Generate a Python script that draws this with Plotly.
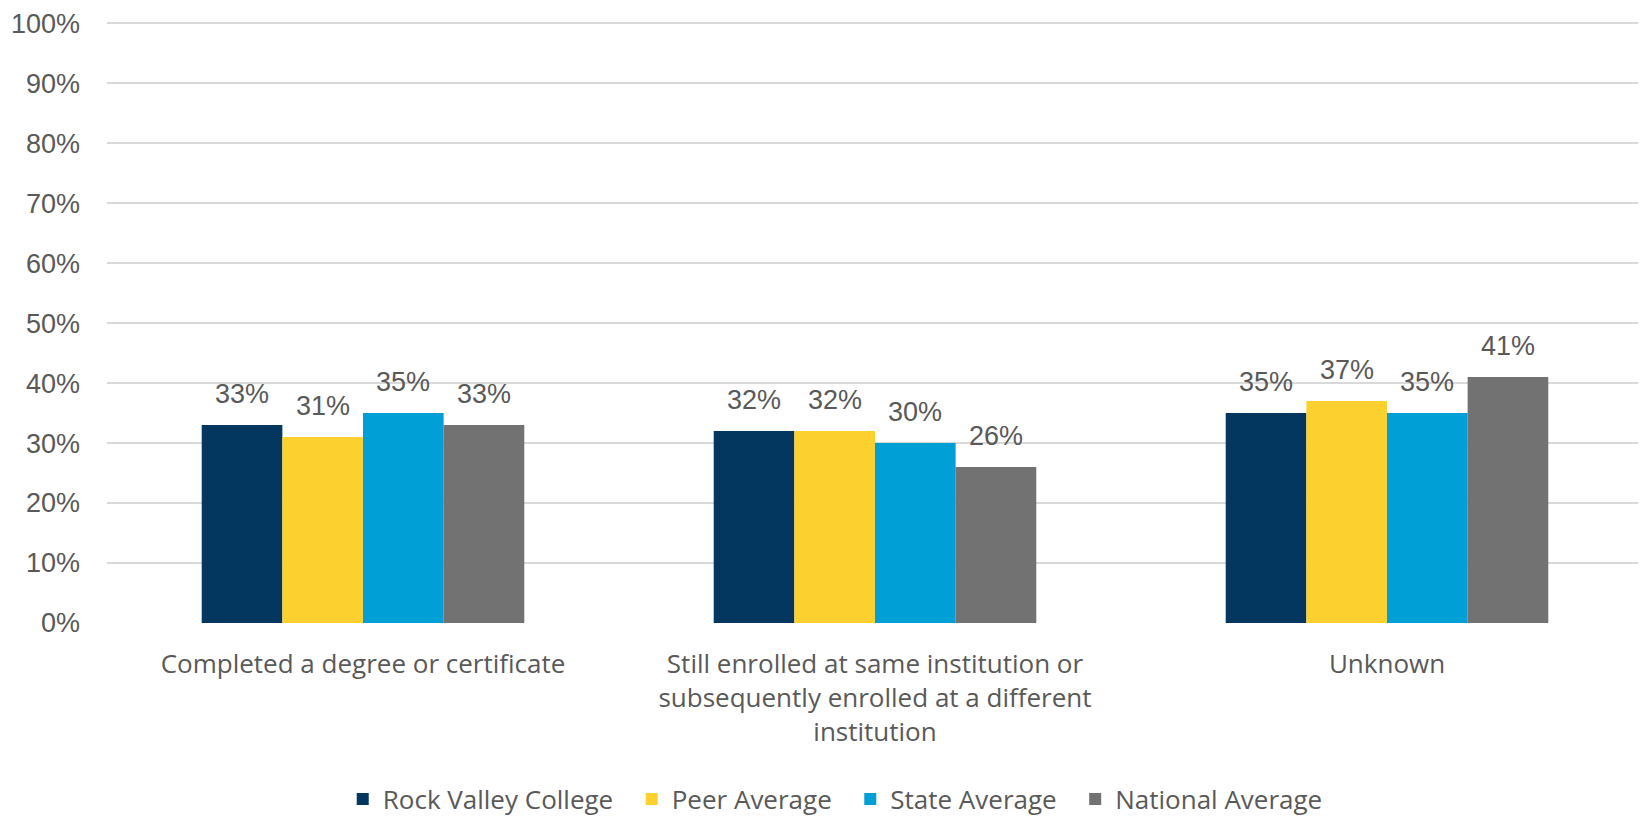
import plotly.graph_objects as go

categories = [
    "Completed a degree or certificate",
    "Still enrolled at same institution or<br>subsequently enrolled at a different<br>institution",
    "Unknown",
]
series_names = ["Rock Valley College", "Peer Average", "State Average", "National Average"]
rock_valley = [0.33, 0.32, 0.35]
peer_avg = [0.31, 0.32, 0.37]
state_avg = [0.35, 0.30, 0.35]
national_avg = [0.33, 0.26, 0.41]
colors = ["#03375F", "#FCD02F", "#009FD6", "#737273"]

series_values = [rock_valley, peer_avg, state_avg, national_avg]
BARGAP = 0.37

fig = go.Figure()
for name, vals, col in zip(series_names, series_values, colors):
    fig.add_trace(go.Bar(
        name=name + "\u00a0\u00a0", x=list(range(len(categories))), y=vals,
        marker=dict(color=col, line=dict(width=0)),
        hoverinfo="skip",
    ))

n = len(series_values)
w = (1 - BARGAP) / n
annotations = []
for i, vals in enumerate(series_values):
    for c, v in enumerate(vals):
        xc = c - (1 - BARGAP) / 2 + (i + 0.5) * w
        annotations.append(dict(
            x=xc, y=v, xref="x", yref="y", text=f"{round(v*100)}%",
            showarrow=False, yanchor="bottom", yshift=14,
            font=dict(family="Liberation Sans, Arial", size=27, color="#595959"),
        ))

fig.update_layout(
    width=1638, height=826,
    margin=dict(l=99, r=3, t=14, b=211, autoexpand=False),
    paper_bgcolor="white", plot_bgcolor="white",
    barmode="group", bargap=BARGAP, bargroupgap=0,
    annotations=annotations,
    showlegend=True,
    legend=dict(
        orientation="h", xref="container", yref="paper",
        x=0.509, xanchor="center", y=-0.293, yanchor="middle",
        font=dict(family="Open Sans", size=26, color="#595959"),
        itemwidth=30, traceorder="normal",
    ),
    yaxis=dict(
        range=[0, 1.002], tickvals=[i / 10 for i in range(11)], tickformat=".0%",
        showgrid=True, gridcolor="#D9D9D9", gridwidth=2,
        zeroline=False, showline=False, automargin=False,
        tickfont=dict(family="Liberation Sans, Arial", size=27, color="#595959"),
        ticklabelstandoff=26,
    ),
    xaxis=dict(
        tickmode="array", tickvals=list(range(len(categories))), ticktext=categories,
        range=[-0.5, len(categories) - 0.5], automargin=False,
        showgrid=False, zeroline=False, showline=False,
        tickfont=dict(family="Open Sans", size=26, color="#595959"),
        ticklabelstandoff=23,
    ),
)

fig.write_html("out.html")
